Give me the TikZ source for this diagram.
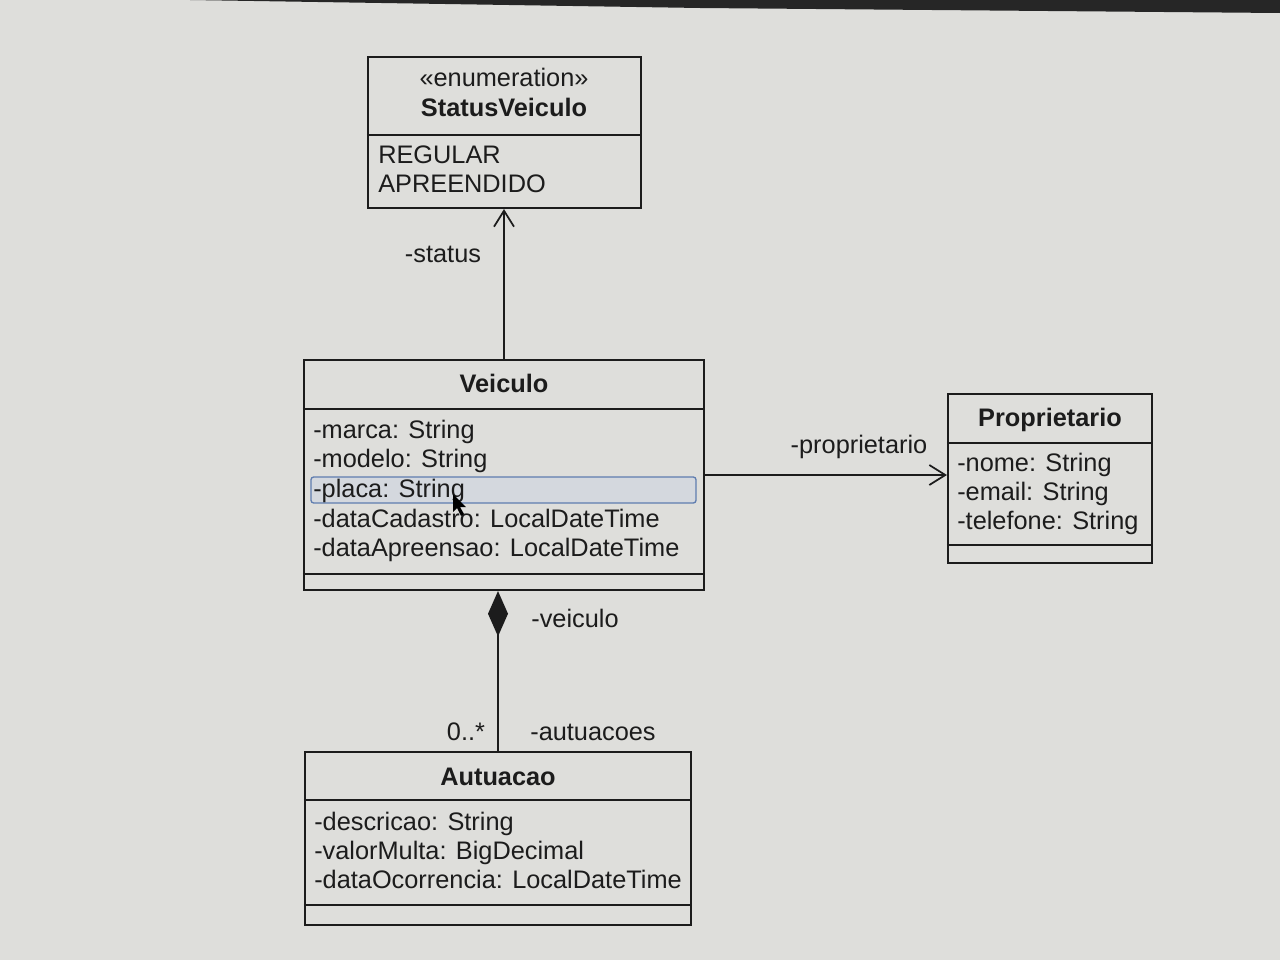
\documentclass[tikz,border=0pt]{standalone}
\usepackage{fontspec}
\setmainfont{Liberation Sans}
\usetikzlibrary{arrows.meta}
\definecolor{bg}{RGB}{222,222,219}
\definecolor{ink}{RGB}{28,28,28}
\definecolor{selb}{RGB}{95,125,175}
\definecolor{self}{RGB}{212,216,222}
\tikzset{
  umlbox/.style={draw=ink, line width=1.6pt, fill=bg, inner sep=0pt},
  txt/.style={anchor=base west, inner sep=0pt, text=ink, font=\fontsize{19}{22}\selectfont},
  ttl/.style={anchor=base, inner sep=0pt, text=ink, font=\fontsize{19}{22}\selectfont\bfseries},
  stereo/.style={anchor=base, inner sep=0pt, text=ink, font=\fontsize{19}{22}\selectfont},
  lbl/.style={anchor=base, inner sep=0pt, text=ink, font=\fontsize{19}{22}\selectfont},
  divider/.style={draw=ink, line width=1.6pt},
  conn/.style={draw=ink, line width=1.5pt},
}
\begin{document}
\begin{tikzpicture}[x=0.75pt,y=-0.75pt]
\useasboundingbox (0,0) rectangle (1280,960);
\fill[bg] (0,0) rectangle (1280,960);
\fill[black!85] (190,0) -- (1280,0) -- (1280,13) -- (700,8) -- cycle;

% boxes
\node[umlbox, minimum width=204.75pt, minimum height=113.25pt] (status) at (504.5,132.5) {};
\node[umlbox, minimum width=300pt, minimum height=172.5pt] (veiculo) at (504,475) {};
\node[umlbox, minimum width=153pt, minimum height=126.75pt] (prop) at (1050,478.5) {};
\node[umlbox, minimum width=289.5pt, minimum height=129.75pt] (aut) at (498,838.5) {};

% dividers
\draw[divider] (status.west |- 0,135) -- (status.east |- 0,135);
\draw[divider] (veiculo.west |- 0,409) -- (veiculo.east |- 0,409);
\draw[divider] (veiculo.west |- 0,574) -- (veiculo.east |- 0,574);
\draw[divider] (prop.west |- 0,443) -- (prop.east |- 0,443);
\draw[divider] (prop.west |- 0,545) -- (prop.east |- 0,545);
\draw[divider] (aut.west |- 0,800) -- (aut.east |- 0,800);
\draw[divider] (aut.west |- 0,905) -- (aut.east |- 0,905);

% StatusVeiculo
\node[stereo] (s1) at (504,86) {«enumeration»};
\node[ttl] (s2) at (504,116) {StatusVeiculo};
\node[txt] (s3) at (378,163) {REGULAR};
\node[txt] (s4) at (378,192) {APREENDIDO};

% Veiculo
\node[ttl] (v0) at (504,392) {Veiculo};
\node[draw=selb, fill=self, line width=1pt, rounded corners=2pt, minimum width=288.75pt, minimum height=19.5pt, inner sep=0pt] (sel) at (503.5,490) {};
\node[txt] (v1) at (313,438) {-marca: String};
\node[txt] (v2) at (313,467) {-modelo: String};
\node[txt] (v3) at (313,497) {-placa: String};
\node[txt] (v4) at (313,527) {-dataCadastro: LocalDateTime};
\node[txt] (v5) at (313,556) {-dataApreensao: LocalDateTime};
% mouse pointer
\fill[black] (453,494) -- (453,512) -- (457,508) -- (461,516) -- (464,514) -- (460,507) -- (466,507) -- cycle;

% Proprietario
\node[ttl] (p0) at (1050,426) {Proprietario};
\node[txt] (p1) at (957,471) {-nome: String};
\node[txt] (p2) at (957,500) {-email: String};
\node[txt] (p3) at (957,529) {-telefone: String};

% Autuacao
\node[ttl] (a0) at (498,785) {Autuacao};
\node[txt] (a1) at (314,830) {-descricao: String};
\node[txt] (a2) at (314,859) {-valorMulta: BigDecimal};
\node[txt] (a3) at (314,888) {-dataOcorrencia: LocalDateTime};

% connectors
\draw[conn, -{Straight Barb[length=12pt,width=15pt,line width=1.3pt]}] (veiculo.north) -- (veiculo.north |- status.south);
\node[lbl] (ls) at (443,262) {-status};

\draw[conn, -{Straight Barb[length=12pt,width=15pt,line width=1.3pt]}] (veiculo.east) -- (veiculo.east -| prop.west);
\node[lbl] (lp) at (859,453) {-proprietario};

\draw[conn, {Diamond[length=34pt,width=15pt,fill=ink]}-] (veiculo.south -| aut.north) -- (aut.north);
\node[lbl] (lv) at (575,627) {-veiculo};
\node[lbl] (lm) at (466,740) {0..*};
\node[lbl] (la) at (593,740) {-autuacoes};
\end{tikzpicture}
\end{document}
